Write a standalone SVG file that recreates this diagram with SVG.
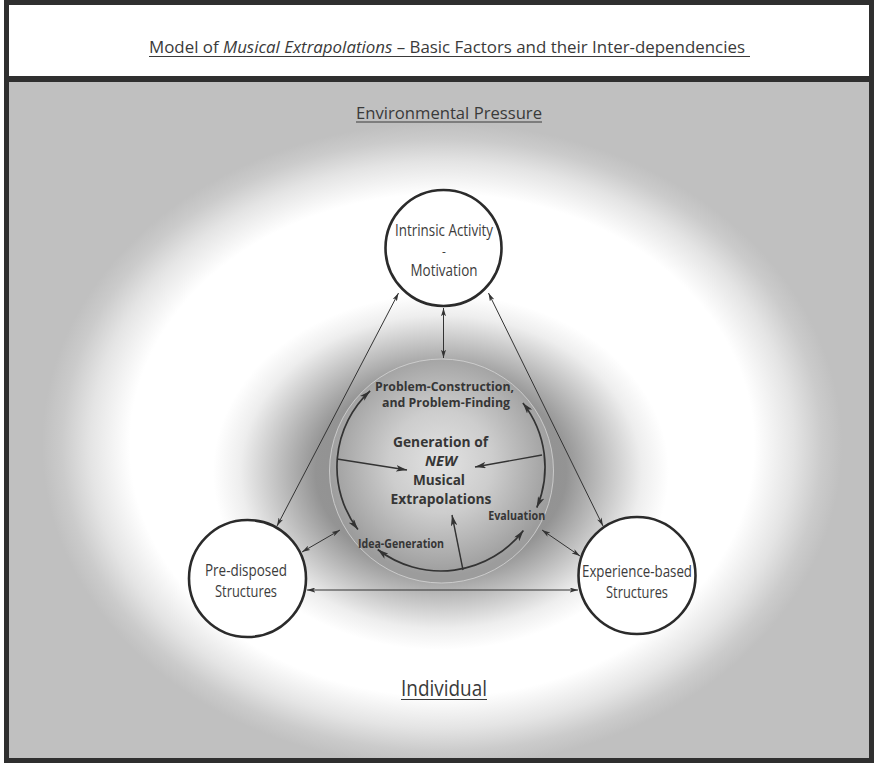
<svg xmlns="http://www.w3.org/2000/svg" width="874" height="763" viewBox="0 0 874 763">
  <defs>
    <style>
      .sans{font-family:"Open Sans","Noto Sans","DejaVu Sans",sans-serif}
      .head{font-size:16.5px;fill:#3a3a3a}
      .ul{stroke:#3a3a3a;stroke-width:1}
      .node circle{fill:#fff;stroke:#2b2b2b;stroke-width:2.6}
      .node text{font-size:15.5px;fill:#3c3c3c;text-anchor:middle}
      .node text.dash{font-size:12px}
      .core text{font-weight:700;fill:#363636;text-anchor:middle}
      .link{fill:none;stroke:#333;stroke-width:1;marker-start:url(#ah);marker-end:url(#ah)}
      .cycle{fill:none;stroke:#333;stroke-width:1.7;marker-start:url(#ahb);marker-end:url(#ahb)}
      .spoke{fill:none;stroke:#333;stroke-width:1.4;marker-end:url(#ahb)}
    </style>
    <!-- background: white ellipse fading into grey -->
    <radialGradient id="env" gradientUnits="userSpaceOnUse" cx="0" cy="0" r="1" gradientTransform="translate(442 445) scale(400 322)">
      <stop offset="0" stop-color="#fff"/>
      <stop offset="0.78" stop-color="#fff"/>
      <stop offset="0.88" stop-color="#e4e4e4"/>
      <stop offset="0.95" stop-color="#cbcbcb"/>
      <stop offset="1" stop-color="#c0c0c0"/>
    </radialGradient>
    <!-- dark halo around the core -->
    <radialGradient id="halo" gradientUnits="userSpaceOnUse" cx="0" cy="0" r="1" gradientTransform="translate(441 472) scale(228 178)">
      <stop offset="0" stop-color="#6e6e6e" stop-opacity="0.8"/>
      <stop offset="0.55" stop-color="#6e6e6e" stop-opacity="0.74"/>
      <stop offset="0.72" stop-color="#6e6e6e" stop-opacity="0.42"/>
      <stop offset="0.88" stop-color="#6e6e6e" stop-opacity="0.12"/>
      <stop offset="1" stop-color="#6e6e6e" stop-opacity="0"/>
    </radialGradient>
    <!-- core disc shading -->
    <radialGradient id="disc" gradientUnits="userSpaceOnUse" cx="441" cy="462" r="114">
      <stop offset="0" stop-color="#e2e2e2"/>
      <stop offset="0.45" stop-color="#cdcdcd"/>
      <stop offset="1" stop-color="#9c9c9c"/>
    </radialGradient>
    <marker id="ah" viewBox="0 0 10 6" refX="10" refY="3" markerWidth="8.5" markerHeight="5" markerUnits="userSpaceOnUse" orient="auto-start-reverse">
      <path d="M0,0 L10,3 L0,6 L2.5,3 Z" fill="#333"/>
    </marker>
    <marker id="ahb" viewBox="0 0 10 6" refX="10" refY="3" markerWidth="11" markerHeight="6.6" markerUnits="userSpaceOnUse" orient="auto-start-reverse">
      <path d="M0,0 L10,3 L0,6 L2.5,3 Z" fill="#333"/>
    </marker>
  </defs>

  <!-- frame, title box and panel -->
  <rect x="0" y="0" width="874" height="763" fill="#fff"/>
  <rect x="4" y="0" width="870" height="763" fill="#2f2f2f"/>
  <rect x="9" y="5" width="860" height="71" fill="#fff"/>
  <rect x="9" y="82" width="860" height="676" fill="url(#env)"/>
  <rect x="9" y="82" width="860" height="676" fill="url(#halo)"/>

  <g id="title">
    <text class="sans head" x="149" y="53" textLength="596" lengthAdjust="spacingAndGlyphs">Model of <tspan font-style="italic">Musical Extrapolations</tspan> – Basic Factors and their Inter-dependencies</text>
    <line class="ul" x1="149" y1="56.5" x2="750" y2="56.5"/>
  </g>
  <g id="environment">
    <text class="sans head" x="449" y="119" text-anchor="middle" textLength="186" lengthAdjust="spacingAndGlyphs">Environmental Pressure</text>
    <line class="ul" x1="356" y1="122" x2="542" y2="122"/>
  </g>
  <g id="individual">
    <text class="sans head" x="444" y="696" text-anchor="middle" style="font-size:21px" textLength="86" lengthAdjust="spacingAndGlyphs">Individual</text>
    <line class="ul" x1="401" y1="699.5" x2="487" y2="699.5"/>
  </g>

  <!-- core: generation of new musical extrapolations -->
  <g id="core" class="core sans">
    <circle cx="441.5" cy="471" r="112" fill="url(#disc)" stroke="#d6d6d6" stroke-width="0.8"/>
    <text x="444.5" y="391" font-size="12.5" textLength="139" lengthAdjust="spacingAndGlyphs">Problem-Construction,</text>
    <text x="446" y="406.5" font-size="12.5" textLength="128" lengthAdjust="spacingAndGlyphs">and Problem-Finding</text>
    <text x="440.5" y="446.5" font-size="14.5" textLength="95" lengthAdjust="spacingAndGlyphs">Generation of</text>
    <text x="441" y="465.5" font-size="14.5" font-style="italic" textLength="32" lengthAdjust="spacingAndGlyphs">NEW</text>
    <text x="439" y="485" font-size="14.5" textLength="52" lengthAdjust="spacingAndGlyphs">Musical</text>
    <text x="441" y="503.5" font-size="14.5" textLength="101" lengthAdjust="spacingAndGlyphs">Extrapolations</text>
    <text x="516.7" y="520" font-size="12" textLength="57" lengthAdjust="spacingAndGlyphs">Evaluation</text>
    <text x="401" y="548.3" font-size="12" textLength="86" lengthAdjust="spacingAndGlyphs">Idea-Generation</text>
  </g>

  <g id="motivation" class="node sans">
    <circle cx="443.5" cy="248" r="58"/>
    <text x="444" y="235.5" textLength="98" lengthAdjust="spacingAndGlyphs">Intrinsic Activity</text>
    <text class="dash" x="444" y="255.5">-</text>
    <text x="444" y="276" textLength="67" lengthAdjust="spacingAndGlyphs">Motivation</text>
  </g>
  <g id="predisposed" class="node sans">
    <circle cx="247.5" cy="578.5" r="58.5"/>
    <text x="246" y="576" textLength="82" lengthAdjust="spacingAndGlyphs">Pre-disposed</text>
    <text x="246" y="597" textLength="62" lengthAdjust="spacingAndGlyphs">Structures</text>
  </g>
  <g id="experience" class="node sans">
    <circle cx="637" cy="575.5" r="58.5"/>
    <text x="637" y="577" textLength="110" lengthAdjust="spacingAndGlyphs">Experience-based</text>
    <text x="637" y="597.5" textLength="62" lengthAdjust="spacingAndGlyphs">Structures</text>
  </g>

  <g id="connectors">
    <!-- links between the factors -->
    <line class="link" x1="443.5" y1="308" x2="443.5" y2="358"/>
    <line class="link" x1="398.5" y1="293" x2="277" y2="526"/>
    <line class="link" x1="488.5" y1="293" x2="603" y2="526"/>
    <line class="link" x1="307" y1="590" x2="578" y2="590"/>
    <line class="link" x1="302" y1="552" x2="340" y2="530"/>
    <line class="link" x1="542" y1="530" x2="580" y2="556"/>
    <!-- cycle of creative phases -->
    <path class="cycle" d="M370.1,390.9 A104,104 0 0 0 357.9,529.6"/>
    <path class="cycle" d="M522.9,402.9 A104,104 0 0 1 536.8,507.6"/>
    <path class="cycle" d="M377.7,549.5 A104,104 0 0 0 523.4,530.5"/>
    <!-- spokes into the core -->
    <line class="spoke" x1="337" y1="459" x2="407" y2="470"/>
    <line class="spoke" x1="542" y1="455" x2="475" y2="467"/>
    <line class="spoke" x1="463" y1="570" x2="452" y2="515"/>
  </g>
</svg>
